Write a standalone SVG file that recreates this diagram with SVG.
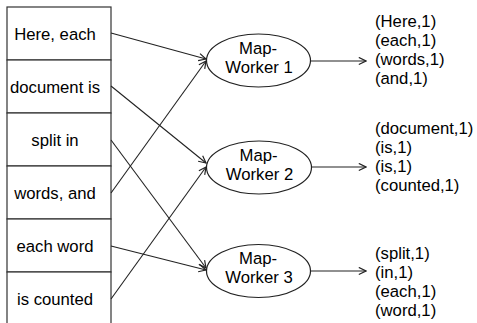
<svg xmlns="http://www.w3.org/2000/svg" width="477" height="323" viewBox="0 0 477 323">
  <style>
    text { font-family: "Liberation Sans", Arial, sans-serif; font-size: 16.7px; fill: #000; }
    .cell rect { fill: #fff; stroke: #333; stroke-width: 1.2; }
    .cell text { text-anchor: middle; }
    .worker ellipse { fill: #fff; stroke: #222; stroke-width: 1.2; }
    .worker text { text-anchor: middle; }
    .edge { fill: none; stroke: #222; stroke-width: 1.1; marker-end: url(#head); }
    .pairs text { text-anchor: start; }
  </style>
  <defs>
    <marker id="head" viewBox="0 0 10 10" refX="9" refY="5" markerWidth="9" markerHeight="9" markerUnits="userSpaceOnUse" orient="auto">
      <path d="M1,1 L9,5 L1,9" fill="none" stroke="#222" stroke-width="1.3"/>
    </marker>
  </defs>

  <rect width="477" height="323" fill="#fff"/>

  <!-- input document split into six chunks -->
  <g id="chunk1" class="cell"><rect x="7" y="7" width="104" height="53"/><text x="55" y="39.5">Here, each</text></g>
  <g id="chunk2" class="cell"><rect x="7" y="60" width="104" height="53"/><text x="55" y="92.5">document is</text></g>
  <g id="chunk3" class="cell"><rect x="7" y="113" width="104" height="53"/><text x="55" y="145.5">split in</text></g>
  <g id="chunk4" class="cell"><rect x="7" y="166" width="104" height="53"/><text x="55" y="198.5">words, and</text></g>
  <g id="chunk5" class="cell"><rect x="7" y="219" width="104" height="53"/><text x="55" y="251.5">each word</text></g>
  <g id="chunk6" class="cell"><rect x="7" y="272" width="104" height="53"/><text x="55" y="304.5">is counted</text></g>

  <!-- map workers -->
  <g id="worker1" class="worker">
    <ellipse cx="258.5" cy="60.5" rx="52" ry="26.5"/>
    <text x="258" y="53.5">Map-</text><text x="259" y="72.5">Worker 1</text>
  </g>
  <g id="worker2" class="worker">
    <ellipse cx="259" cy="167.5" rx="52.5" ry="26.5"/>
    <text x="258.5" y="160.5">Map-</text><text x="259.5" y="179.5">Worker 2</text>
  </g>
  <g id="worker3" class="worker">
    <ellipse cx="258.5" cy="271" rx="52" ry="26.5"/>
    <text x="258" y="264">Map-</text><text x="259" y="283">Worker 3</text>
  </g>

  <!-- emitted key/value pairs -->
  <g id="pairs1" class="pairs">
    <text x="375" y="26.5">(Here,1)</text>
    <text x="375" y="45.5">(each,1)</text>
    <text x="375" y="64.5">(words,1)</text>
    <text x="375" y="83.5">(and,1)</text>
  </g>
  <g id="pairs2" class="pairs">
    <text x="375" y="133.5">(document,1)</text>
    <text x="375" y="152.5">(is,1)</text>
    <text x="375" y="171.5">(is,1)</text>
    <text x="375" y="190.5">(counted,1)</text>
  </g>
  <g id="pairs3" class="pairs">
    <text x="375" y="258.5">(split,1)</text>
    <text x="375" y="277.5">(in,1)</text>
    <text x="375" y="296.5">(each,1)</text>
    <text x="375" y="315.5">(word,1)</text>
  </g>

  <!-- connectors -->
  <g id="connectors">
    <line class="edge" x1="111" y1="33" x2="206" y2="59"/>
    <line class="edge" x1="111" y1="86" x2="206" y2="163"/>
    <line class="edge" x1="111" y1="140" x2="206" y2="268"/>
    <line class="edge" x1="111" y1="193" x2="206" y2="61"/>
    <line class="edge" x1="111" y1="246" x2="206" y2="270"/>
    <line class="edge" x1="111" y1="299" x2="206" y2="167"/>
    <line class="edge" x1="311" y1="61" x2="366" y2="61"/>
    <line class="edge" x1="311.5" y1="167" x2="366" y2="167"/>
    <line class="edge" x1="311" y1="271" x2="366" y2="271"/>
  </g>
</svg>
